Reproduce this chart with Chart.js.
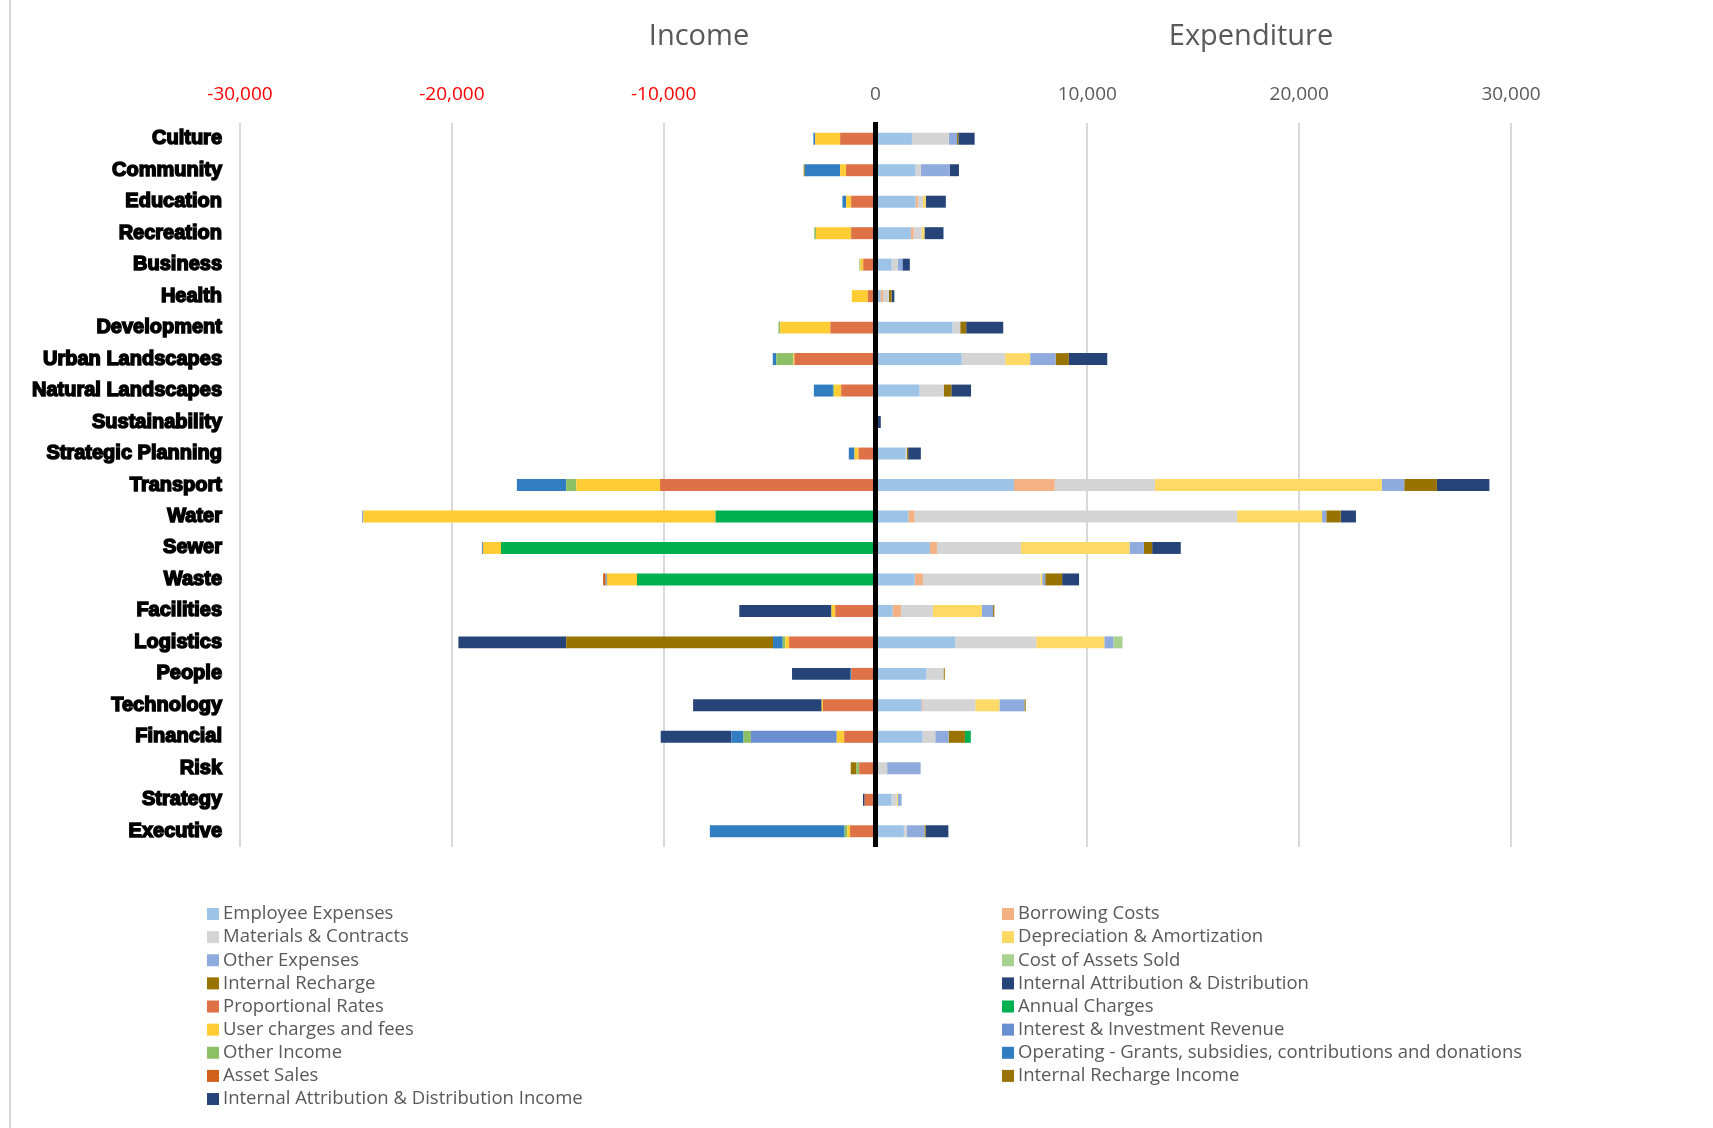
<!DOCTYPE html>
<html>
<head>
<meta charset="utf-8">
<title>Income and Expenditure</title>
<script src="https://cdn.jsdelivr.net/npm/chart.js@4.4.1/dist/chart.umd.min.js"></script>
<style>
  html, body { margin: 0; padding: 0; background: #fff; }
  #wrap { width: 1713px; height: 1128px; }
</style>
</head>
<body>
<div id="wrap"><canvas id="chart" width="1713" height="1128"></canvas></div>
<script>
// categories, top to bottom
const categories = ["Culture", "Community", "Education", "Recreation", "Business", "Health",
  "Development", "Urban Landscapes", "Natural Landscapes", "Sustainability", "Strategic Planning",
  "Transport", "Water", "Sewer", "Waste", "Facilities", "Logistics", "People", "Technology",
  "Financial", "Risk", "Strategy", "Executive"];

const xTicks = [-30000, -20000, -10000, 0, 10000, 20000, 30000];

// expenditure (positive)
const employeeExpenses = [1720, 1890, 1890, 1670, 760, 250, 3640, 4070, 2080, 0, 1420, 6540, 1550, 2570, 1850, 810, 3760, 2410, 2180, 2220, 0, 760, 1340];
const borrowingCosts = [0, 0, 110, 130, 0, 110, 0, 0, 0, 0, 0, 1920, 290, 330, 390, 390, 0, 0, 50, 0, 0, 0, 0];
const materialsContracts = [1740, 250, 240, 380, 300, 270, 360, 2050, 1140, 0, 60, 4730, 15230, 3970, 5550, 1510, 3830, 800, 2480, 600, 550, 250, 130];
const depreciation = [0, 0, 130, 130, 0, 0, 0, 1180, 0, 0, 0, 10710, 4010, 5120, 80, 2310, 3210, 0, 1140, 0, 0, 50, 0];
const otherExpenses = [390, 1360, 0, 0, 210, 0, 0, 1200, 0, 0, 0, 1060, 200, 680, 140, 530, 430, 0, 1180, 630, 1580, 170, 840];
const costOfAssetsSold = [0, 0, 0, 0, 0, 0, 0, 0, 0, 0, 0, 0, 0, 0, 0, 0, 430, 0, 0, 0, 0, 0, 0];
const internalRecharge = [60, 0, 0, 0, 0, 130, 280, 630, 360, 0, 60, 1540, 680, 390, 800, 60, 0, 60, 60, 770, 0, 0, 60];
const internalAttribution = [770, 440, 950, 900, 350, 130, 1750, 1810, 930, 250, 600, 2480, 720, 1350, 800, 0, 0, 0, 0, 0, 0, 0, 1070];

// income (negative)
const proportionalRates = [-1670, -1390, -1150, -1150, -580, -360, -2130, -3830, -1620, 0, -800, -10170, 0, 0, 0, -1900, -4080, -1150, -2480, -1480, -770, -510, -1200];
const annualCharges = [0, 0, 0, 0, 0, 0, 0, 0, 0, 0, 0, 0, -7550, -17680, -11260, 0, 0, 0, 0, 280, 0, 0, 0];
const userCharges = [-1180, -280, -240, -1660, -130, -760, -2370, -50, -330, 0, -190, -3950, -16630, -850, -1420, -180, -180, 0, -60, -350, 0, 0, -130];
const interestRevenue = [0, 0, 0, 0, 0, 0, 0, 0, 0, 0, 0, 0, -50, -50, -60, 0, 0, 0, 0, -4050, 0, 0, 0];
const otherIncome = [0, 0, 0, -80, -50, 0, -80, -800, -60, 0, 0, -480, 0, 0, 0, 0, -120, 0, 0, -350, -130, 0, -130];
const operatingGrants = [-80, -1670, -170, 0, 0, 0, 0, -170, -900, 0, -270, -2330, 0, 0, 0, 0, -460, -50, 0, -570, 0, 0, -6360];
const assetSales = [0, 0, 0, 0, 0, 0, 0, 0, 0, 0, 0, 0, 0, 0, -120, 0, 0, 0, 0, 0, 0, 0, 0];
const internalRechargeIncome = [0, -50, 0, 0, 0, 0, 0, 0, 0, 0, 0, 0, 0, 0, 0, 0, -9760, 0, 0, 0, -270, 0, 0];
const internalAttributionIncome = [0, 0, 0, 0, 0, 0, 0, 0, 0, 0, 0, 0, 0, 0, 0, -4350, -5090, -2740, -6070, -3340, 0, -80, 0];

const series = [
  ["Employee Expenses", employeeExpenses, "#9DC3E6"],
  ["Borrowing Costs", borrowingCosts, "#F4B183"],
  ["Materials & Contracts", materialsContracts, "#D4D4D4"],
  ["Depreciation & Amortization", depreciation, "#FFD966"],
  ["Other Expenses", otherExpenses, "#8FAADC"],
  ["Cost of Assets Sold", costOfAssetsSold, "#A9D18E"],
  ["Internal Recharge", internalRecharge, "#997300"],
  ["Internal Attribution & Distribution", internalAttribution, "#264478"],
  ["Proportional Rates", proportionalRates, "#DE7146"],
  ["Annual Charges", annualCharges, "#00B050"],
  ["User charges and fees", userCharges, "#FFCC33"],
  ["Interest & Investment Revenue", interestRevenue, "#6A8FD0"],
  ["Other Income", otherIncome, "#8DC065"],
  ["Operating - Grants, subsidies, contributions and donations", operatingGrants, "#307DC1"],
  ["Asset Sales", assetSales, "#D0601A"],
  ["Internal Recharge Income", internalRechargeIncome, "#997300"],
  ["Internal Attribution & Distribution Income", internalAttributionIncome, "#264478"]
];

const datasets = series.map(s => ({
  label: s[0],
  data: s[1],
  backgroundColor: s[2],
  borderWidth: 0,
  barPercentage: 1,
  categoryPercentage: 0.38
}));

// frame, headings, zero line and two-column legend
const decorations = {
  id: 'decorations',
  beforeDraw(chart) {
    const ctx = chart.ctx;
    ctx.save();
    ctx.fillStyle = '#fff';
    ctx.fillRect(0, 0, chart.width, chart.height);
    ctx.strokeStyle = '#D9D9D9';
    ctx.lineWidth = 2;
    ctx.beginPath();
    ctx.moveTo(10, 0);
    ctx.lineTo(10, chart.height);
    ctx.stroke();
    ctx.restore();
  },
  afterDatasetsDraw(chart) {
    const ctx = chart.ctx;
    const x0 = chart.scales.x.getPixelForValue(0);
    ctx.save();
    ctx.fillStyle = '#000';
    ctx.fillRect(x0 - 2.5, chart.chartArea.top - 1, 5, chart.chartArea.bottom - chart.chartArea.top + 1);
    ctx.restore();
  },
  afterDraw(chart) {
    const ctx = chart.ctx;
    ctx.save();
    ctx.fillStyle = '#595959';
    ctx.font = '29px "Open Sans"';
    ctx.textAlign = 'center';
    ctx.textBaseline = 'alphabetic';
    ctx.fillText('Income', 699, 45);
    ctx.fillText('Expenditure', 1251, 45);

    ctx.font = '18.5px "Open Sans"';
    ctx.textAlign = 'left';
    ctx.textBaseline = 'middle';
    chart.data.datasets.forEach((ds, i) => {
      const col = i % 2;
      const row = Math.floor(i / 2);
      const bx = col === 0 ? 207 : 1002;
      const cy = 914 + row * 23.13;
      ctx.fillStyle = ds.backgroundColor;
      ctx.fillRect(bx, cy - 6, 12, 12);
      ctx.fillStyle = '#595959';
      ctx.fillText(ds.label, bx + 16, cy);
    });
    ctx.restore();
  }
};

new Chart(document.getElementById('chart'), {
  type: 'bar',
  data: { labels: categories, datasets: datasets },
  options: {
    indexAxis: 'y',
    responsive: false,
    animation: false,
    devicePixelRatio: 1,
    layout: { padding: { left: 0, right: 202, top: 0, bottom: 281 } },
    plugins: {
      legend: { display: false },
      tooltip: { enabled: true }
    },
    scales: {
      x: {
        position: 'top',
        stacked: true,
        min: -30000,
        max: 30000,
        afterFit(scale) { scale.height = 123; },
        afterBuildTicks(scale) { scale.ticks = xTicks.map(v => ({ value: v })); },
        border: { display: false },
        grid: {
          drawTicks: false,
          lineWidth: 2,
          color: c => (c.tick && c.tick.value === 0) ? 'rgba(0,0,0,0)' : '#D9D9D9'
        },
        ticks: {
          padding: 17,
          font: { family: '"Open Sans"', size: 19 },
          color: c => c.tick.value < 0 ? '#FF0000' : '#595959',
          callback: v => v.toLocaleString('en-US')
        }
      },
      y: {
        stacked: true,
        afterFit(scale) { scale.width = 240; },
        border: { display: false },
        grid: { display: false, drawTicks: false },
        ticks: {
          padding: 18,
          color: '#000',
          textStrokeColor: '#000',
          textStrokeWidth: 1.5,
          font: { family: '"Liberation Sans", Arial, sans-serif', size: 20, weight: 'bold' }
        }
      }
    }
  },
  plugins: [decorations]
});
</script>
</body>
</html>
